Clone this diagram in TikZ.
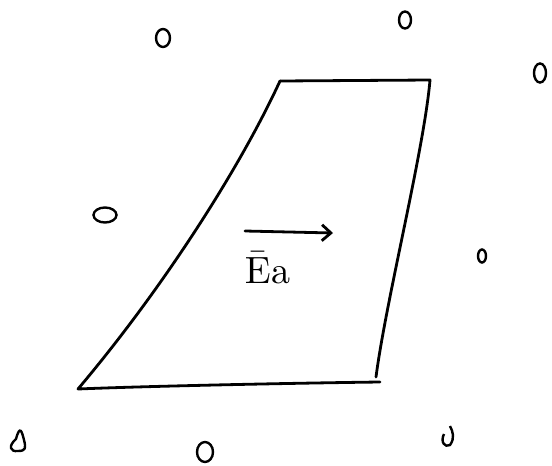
\documentclass[tikz,border=0pt]{standalone}
\usetikzlibrary{arrows.meta}
\begin{document}
\begin{tikzpicture}[x=1pt,y=-1pt,
  pen/.style={line width=2.8pt,line join=round,line cap=round},
  dot/.style={line width=2.4pt}]
\useasboundingbox (0,0) rectangle (552,466);
% plate
\coordinate (tl) at (280,81);
\coordinate (tr) at (430,80);
\coordinate (rb) at (376,377);
\coordinate (br) at (380,382);
\coordinate (bl) at (78,389);
\draw[pen] (tl) -- (tr) .. controls (424,150) and (386,300) .. (rb);
\draw[pen] (br) .. controls (300,383) and (150,386) .. (bl)
  .. controls (160,292) and (238,172) .. (tl);
% field arrow
\coordinate (a1) at (245,231);
\coordinate (a2) at (333,233);
\draw[pen,-{Straight Barb[length=9pt,width=16pt]}] (a1) -- (a2);
\node[scale=3.8,anchor=base west,inner sep=0pt] (lab) at (244,283) {$\bar{\mathrm{E}}$\kern0.3pt a};
% particles
\draw[dot] (163,38) ellipse (7 and 9);
\draw[dot] (405,20) ellipse (6 and 8.5);
\draw[dot] (540,73) ellipse (6 and 9.5);
\draw[dot] (105,215) ellipse (11.5 and 7.5);
\draw[dot] (482,256) ellipse (4 and 6.5);
\draw[dot] (16,439) .. controls (8,446) and (10,452) .. (18,451) .. controls (26,451) and (26,448) .. (24,440) .. controls (22,432) and (20,424) .. (16,439) -- cycle;
\draw[dot] (205,452) ellipse (8 and 10);
\draw[dot] (450,426) .. controls (453,432) and (455,438) .. (450,445) .. controls (445,448) and (440,442) .. (444,434);
\end{tikzpicture}
\end{document}
